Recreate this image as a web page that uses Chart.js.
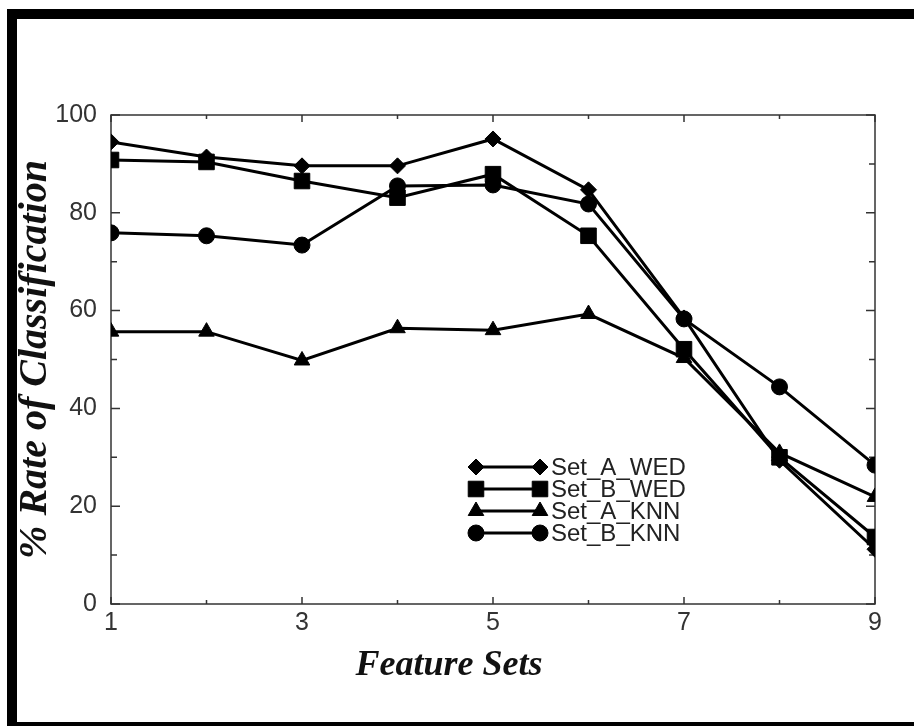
<!DOCTYPE html>
<html>
<head>
<meta charset="utf-8">
<title>Rate of Classification</title>
<script src="https://cdn.jsdelivr.net/npm/chart.js@4.4.0/dist/chart.umd.min.js"></script>
<style>
  html, body { margin: 0; padding: 0; background: #fff; overflow: hidden; }
  #frame {
    position: absolute; left: 7px; top: 9px;
    width: 920px; height: 703px;
    border: 10px solid #000; background: #fff;
  }
  #chart { position: absolute; left: 0; top: 0; }
</style>
</head>
<body>
<div id="frame"></div>
<canvas id="chart" width="914" height="726"></canvas>
<script>
const featureSets = [1, 2, 3, 4, 5, 6, 7, 8, 9];
const yTicks = [0, 20, 40, 60, 80, 100];

const setAWed = [94.5, 91.4, 89.6, 89.6, 95.1, 84.7, 58.5, 29.4, 11.2];
const setBWed = [90.8, 90.4, 86.5, 83.1, 87.9, 75.3, 52.1, 30.0, 13.7];
const setAKnn = [55.7, 55.7, 49.8, 56.4, 56.0, 59.3, 50.3, 30.9, 21.9];
const setBKnn = [75.9, 75.3, 73.4, 85.5, 85.7, 81.8, 58.3, 44.4, 28.4];

const seriesNames = ['Set_A_WED', 'Set_B_WED', 'Set_A_KNN', 'Set_B_KNN'];
const xTitle = 'Feature Sets';
const yTitle = '% Rate of Classification';

const serifBold = "italic bold 36px 'Liberation Serif', 'Times New Roman', serif";

function toPoints(values) {
    return featureSets.map((f, i) => ({ x: f, y: values[i] }));
}

function makeSet(label, values, style, radius) {
    return {
        label: label,
        data: toPoints(values),
        borderColor: '#000',
        backgroundColor: '#000',
        borderWidth: 3,
        pointStyle: style,
        pointRadius: radius,
        pointBorderWidth: 1,
        pointBackgroundColor: '#000',
        pointBorderColor: '#000',
        tension: 0
    };
}

// box round the plot and the small inward ticks on all four sides
const frameTicks = {
    id: 'frameTicks',
    beforeDatasetsDraw(chart) {
        const { ctx, chartArea: a, scales: { x, y } } = chart;
        ctx.save();
        ctx.strokeStyle = '#333';
        ctx.lineWidth = 1.5;
        ctx.strokeRect(a.left, a.top, a.right - a.left, a.bottom - a.top);
        ctx.beginPath();
        for (let v = 0; v <= 100; v += 10) {
            const py = y.getPixelForValue(v);
            const len = v % 20 === 0 ? 9 : 6;
            ctx.moveTo(a.left, py); ctx.lineTo(a.left + len, py);
            ctx.moveTo(a.right, py); ctx.lineTo(a.right - len, py);
        }
        for (let v = 1; v <= 9; v++) {
            const px = x.getPixelForValue(v);
            const len = v % 2 === 1 ? 7 : 4;
            ctx.moveTo(px, a.bottom); ctx.lineTo(px, a.bottom - len);
            ctx.moveTo(px, a.top); ctx.lineTo(px, a.top + len);
        }
        ctx.stroke();

        // x title sits a little left of the plot centre in the original
        ctx.font = serifBold;
        ctx.fillStyle = '#111';
        ctx.textAlign = 'center';
        ctx.textBaseline = 'middle';
        ctx.fillText(xTitle, (a.left + a.right) / 2 - 44, 666);
        ctx.restore();
    }
};

// legend drawn like the original: a line with a marker at each end
const innerLegend = {
    id: 'innerLegend',
    afterDraw(chart) {
        const { ctx } = chart;
        const x0 = 476, x1 = 540, top = 467, step = 22;
        ctx.save();
        chart.data.datasets.forEach((ds, i) => {
            const yy = top + i * step;
            ctx.strokeStyle = '#000';
            ctx.fillStyle = '#000';
            ctx.lineWidth = 3;
            ctx.beginPath();
            ctx.moveTo(x0, yy); ctx.lineTo(x1, yy);
            ctx.stroke();
            const opts = { pointStyle: ds.pointStyle, radius: ds.pointRadius, rotation: 0, borderWidth: 1 };
            ctx.lineWidth = 1;
            Chart.helpers.drawPoint(ctx, opts, x0, yy);
            Chart.helpers.drawPoint(ctx, opts, x1, yy);
            ctx.font = "24px 'Liberation Sans', Arial, sans-serif";
            ctx.fillStyle = '#222';
            ctx.textAlign = 'left';
            ctx.textBaseline = 'middle';
            ctx.fillText(ds.label, 551, yy + 1);
        });
        ctx.restore();
    }
};

new Chart(document.getElementById('chart').getContext('2d'), {
    type: 'line',
    data: {
        datasets: [
            makeSet(seriesNames[0], setAWed, 'rectRot', 8),
            makeSet(seriesNames[1], setBWed, 'rect', 11),
            makeSet(seriesNames[2], setAKnn, 'triangle', 9),
            makeSet(seriesNames[3], setBKnn, 'circle', 8)
        ]
    },
    options: {
        responsive: false,
        animation: false,
        devicePixelRatio: 1,
        layout: { padding: { left: 0, top: 115, right: 39, bottom: 0 } },
        plugins: {
            legend: { display: false },
            tooltip: { enabled: false }
        },
        scales: {
            x: {
                type: 'linear',
                min: 1,
                max: 9,
                grid: { display: false, drawTicks: false, tickLength: 0 },
                border: { display: false },
                ticks: {
                    stepSize: 1,
                    padding: 4,
                    color: '#333',
                    font: { family: "'Liberation Sans', Arial, sans-serif", size: 25 },
                    callback: v => (v % 2 === 1 ? String(v) : '')
                },
                title: { display: false },
                afterFit(scale) { scale.height = 122; }
            },
            y: {
                min: 0,
                max: 100,
                grid: { display: false, drawTicks: false, tickLength: 0 },
                border: { display: false },
                afterBuildTicks(scale) { scale.ticks = yTicks.map(v => ({ value: v })); },
                ticks: {
                    padding: 14,
                    color: '#333',
                    font: { family: "'Liberation Sans', Arial, sans-serif", size: 25 }
                },
                title: {
                    display: true,
                    text: yTitle,
                    color: '#111',
                    font: { family: "'Liberation Serif', 'Times New Roman', serif", size: 40, style: 'italic', weight: 'bold' },
                    padding: { top: 12, bottom: 0 }
                },
                afterFit(scale) { scale.width = 111; }
            }
        }
    },
    plugins: [frameTicks, innerLegend]
});
</script>
</body>
</html>
